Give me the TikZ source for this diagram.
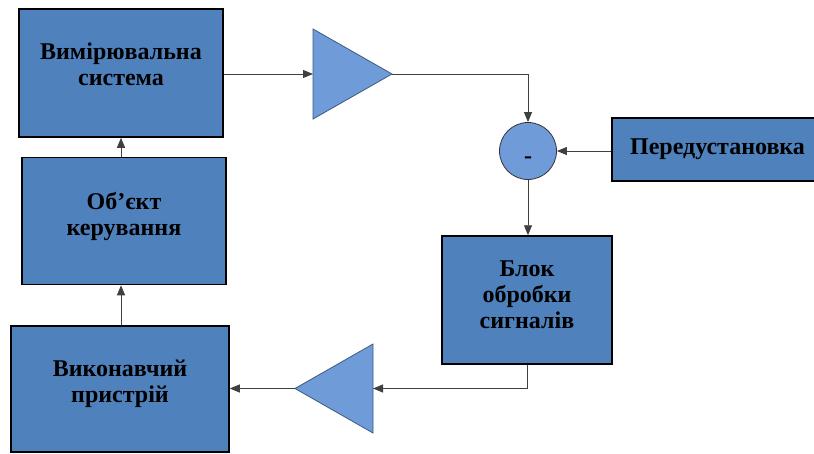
\documentclass[tikz,border=0pt]{standalone}
\usepackage{fontspec}
\setmainfont{Liberation Serif}
\usetikzlibrary{arrows.meta}
\definecolor{boxblue}{HTML}{4F81BD}
\definecolor{lightblue}{HTML}{6F9CD9}
\definecolor{edgeblue}{HTML}{3B5A80}
\newcommand{\lowpad}[1]{\rule[-#1pt]{0pt}{0pt}}
\tikzset{
  blockbox/.style={draw=black, line width=1.5pt, fill=boxblue, rectangle, inner sep=0pt,
    align=center, font=\fontsize{24}{26}\selectfont\bfseries},
  amp/.style={draw=edgeblue, line width=0.8pt, fill=lightblue, line join=miter},
  conn/.style={draw=black!75, line width=0.9pt, -{Triangle[length=10pt,width=8pt]}},
  plainline/.style={draw=black!75, line width=0.9pt}
}
\begin{document}
\begin{tikzpicture}[x=1pt,y=-1pt]
\useasboundingbox (0,0) rectangle (814,453);
\clip (0,0) rectangle (814,453);
% blocks
\node[blockbox, minimum width=204, minimum height=128] (b1) at (121,73) {Вимірювальна\\система\lowpad{18}};
\node[blockbox, minimum width=204, minimum height=127] (b2) at (124,221) {Об’єкт\\керування\lowpad{14}};
\node[blockbox, minimum width=218, minimum height=126] (b3) at (120,389) {Виконавчий\\пристрій\lowpad{16}};
\node[blockbox, minimum width=170, minimum height=128] (blk) at (527,300) {Блок\\обробки\\сигналів\lowpad{11}};
\node[blockbox, minimum width=211, minimum height=63] (pre) at (717.5,149.5) {Передустановка};
% summing junction
\node[circle, draw=black!80, line width=0.8pt, fill=lightblue, minimum size=57, inner sep=0pt,
  font=\fontsize{24}{26}\selectfont\bfseries] (sum) at (528,151) {\rule{0pt}{24pt}-};
% amplifier triangles
\coordinate (t1w) at (313,74);
\coordinate (t1tip) at (392,74);
\draw[amp] (313,29) -- (t1tip) -- (313,119) -- cycle;
\coordinate (t2e) at (373,388.5);
\coordinate (t2tip) at (295,388.5);
\draw[amp] (373,344) -- (t2tip) -- (373,433) -- cycle;
% connectors
\draw[conn] (b1.east |- t1w) -- (t1w);
\draw[conn] (t1tip) -| (sum.north);
\draw[conn] (pre.west |- sum.east) -- (sum.east);
\draw[conn] (sum.south) -- (sum.south |- blk.north);
\draw[plainline] (blk.south) |- (t2e);
\draw[conn] (t2e) ++(14,0) -- (t2e);
\draw[conn] (t2tip) -- (b3.east |- t2tip);
\draw[conn] (b3.north -| 121,0) -- (121,0 |- b2.south);
\draw[conn] (121,0 |- b2.north) -- (121,0 |- b1.south);
\end{tikzpicture}
\end{document}
